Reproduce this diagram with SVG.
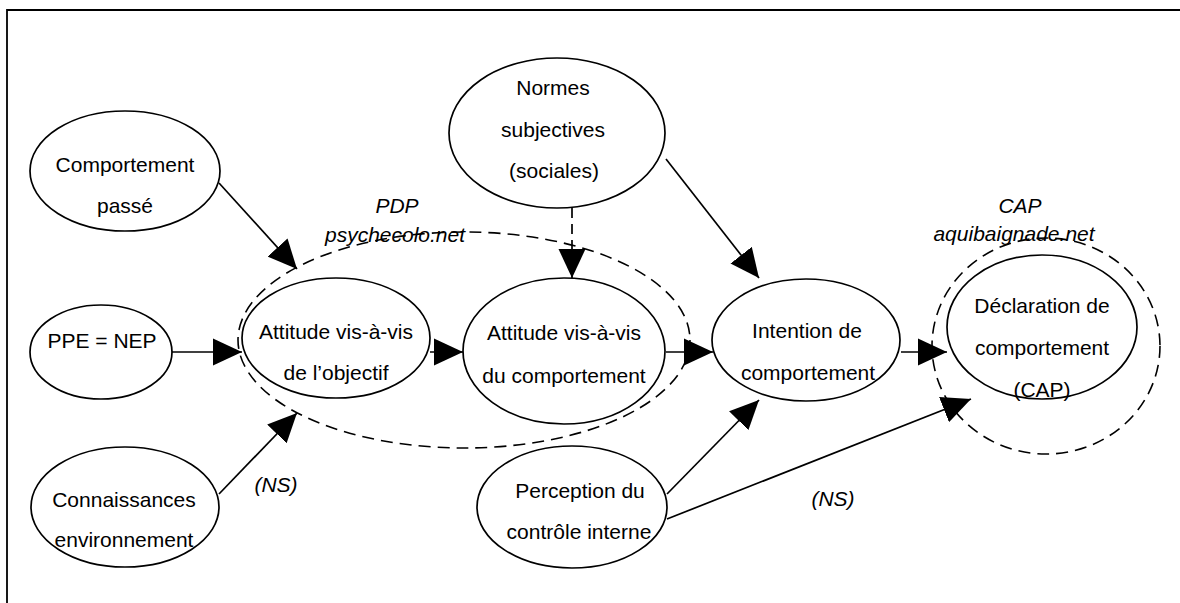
<svg xmlns="http://www.w3.org/2000/svg" width="1180" height="603" viewBox="0 0 1180 603">
<style>
.n{fill:#fff;stroke:#000;stroke-width:1.7}
.g{fill:none;stroke:#000;stroke-width:1.6;stroke-dasharray:12 7}
.t{font-family:"Liberation Sans",Arial,sans-serif;font-size:21px;fill:#000;text-anchor:middle}
.i{font-style:italic}
.c{stroke:#000;stroke-width:1.7;fill:none}
.d{stroke-dasharray:10 6}
</style>
<defs>
<marker id="ah" viewBox="0 0 29 28" refX="29" refY="14" markerWidth="29" markerHeight="28" markerUnits="userSpaceOnUse" orient="auto">
<path d="M0,0.5 L29,14 L0,27.5 Z" fill="#000"/>
</marker>
</defs>
<rect width="1180" height="603" fill="#fff"/>
<path d="M7,603 V10 H1180" fill="none" stroke="#000" stroke-width="1.8"/>

<g id="n-comp-passe"><ellipse class="n" cx="125" cy="171" rx="95" ry="60"/><text class="t" x="125" y="172">Comportement</text><text class="t" x="125" y="213">passé</text></g>
<g id="n-ppe"><ellipse class="n" cx="101" cy="352" rx="71" ry="47"/><text class="t" x="102" y="348">PPE = NEP</text></g>
<g id="n-conn"><ellipse class="n" cx="125" cy="507" rx="94" ry="60"/><text class="t" x="124" y="507">Connaissances</text><text class="t" x="124" y="547">environnement</text></g>
<g id="n-att-obj"><ellipse class="n" cx="336" cy="338" rx="94" ry="60"/><text class="t" x="336" y="339">Attitude vis-à-vis</text><text class="t" x="336" y="380">de l’objectif</text></g>
<g id="n-att-comp"><ellipse class="n" cx="564" cy="351" rx="101" ry="73"/><text class="t" x="564" y="340">Attitude vis-à-vis</text><text class="t" x="564" y="383">du comportement</text></g>
<g id="n-normes"><ellipse class="n" cx="557" cy="133" rx="108" ry="75"/><text class="t" x="553" y="95">Normes</text><text class="t" x="553" y="137">subjectives</text><text class="t" x="554" y="178">(sociales)</text></g>
<g id="n-intention"><ellipse class="n" cx="806" cy="340" rx="94" ry="61"/><text class="t" x="807" y="338">Intention de</text><text class="t" x="808" y="380">comportement</text></g>
<g id="n-declaration"><ellipse class="n" cx="1042" cy="327" rx="95" ry="72"/><text class="t" x="1042" y="313">Déclaration de</text><text class="t" x="1042" y="355">comportement</text><text class="t" x="1042" y="397">(CAP)</text></g>
<g id="n-perception"><ellipse class="n" cx="572" cy="507" rx="95" ry="61"/><text class="t" x="580" y="498">Perception du</text><text class="t" x="579" y="539">contrôle interne</text></g>

<g id="groups">
<ellipse class="g" cx="464" cy="340" rx="226" ry="108"/>
<text class="t i" x="397" y="213">PDP</text>
<text class="t i" x="395" y="242">psychecolo.net</text>
<ellipse class="g" cx="1046" cy="346" rx="114" ry="108"/>
<text class="t i" x="1020" y="213">CAP</text>
<text class="t i" x="1014" y="241">aquibaignade.net</text>
</g>

<g id="connectors">
<line class="c" x1="219" y1="183" x2="297" y2="269" marker-end="url(#ah)"/>
<line class="c" x1="172" y1="352" x2="242" y2="352" marker-end="url(#ah)"/>
<line class="c" x1="219" y1="494" x2="297" y2="413" marker-end="url(#ah)"/>
<line class="c" x1="430" y1="352" x2="463" y2="352" marker-end="url(#ah)"/>
<line class="c d" x1="572" y1="208" x2="572" y2="278" marker-end="url(#ah)"/>
<line class="c" x1="666" y1="159" x2="759" y2="278" marker-end="url(#ah)"/>
<line class="c" x1="666" y1="352" x2="713" y2="352" marker-end="url(#ah)"/>
<line class="c" x1="667" y1="494" x2="759" y2="400" marker-end="url(#ah)"/>
<line class="c" x1="901" y1="352" x2="947" y2="352" marker-end="url(#ah)"/>
<line class="c" x1="667" y1="519" x2="971" y2="399" marker-end="url(#ah)"/>
<text class="t i" x="276" y="492">(NS)</text>
<text class="t i" x="833" y="506">(NS)</text>
</g>
</svg>
